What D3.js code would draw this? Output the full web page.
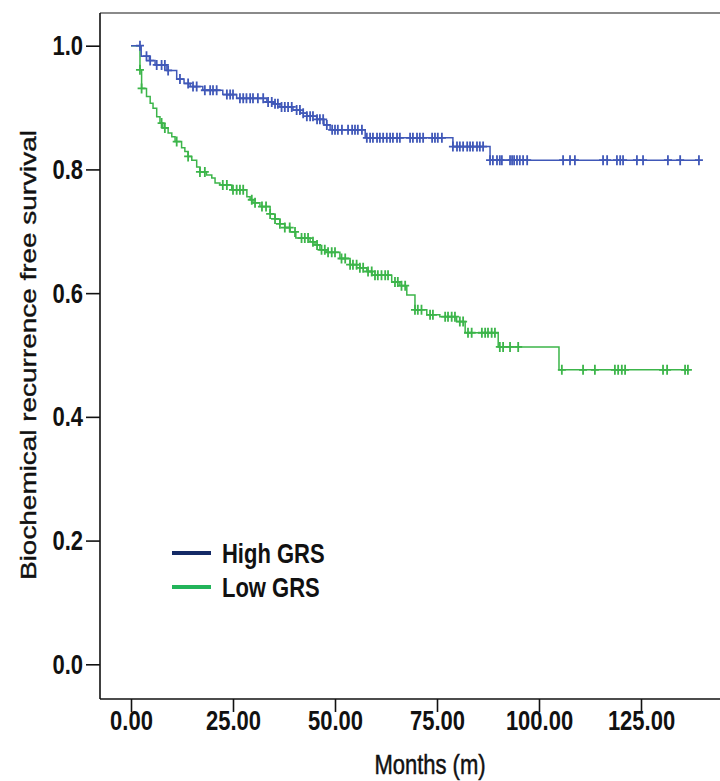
<!DOCTYPE html>
<html>
<head>
<meta charset="utf-8">
<script src="https://cdn.jsdelivr.net/npm/d3@7"></script>
<style>
  html, body { margin: 0; padding: 0; background: #fff; }
  svg { display: block; }
  text { font-family: "Liberation Sans", Arial, sans-serif; fill: #111; }
</style>
</head>
<body>
<svg id="chart" width="720" height="781"></svg>
<script>
// Kaplan-Meier curves: step times (months) and survival after each step
const highTimes = [2.5, 4.5, 5.9, 8.8, 11.2, 13.0, 14.5, 17.6, 22.5, 25.9, 33.3, 34.8, 36.5, 39.7, 41.5, 43.1, 45.5, 47.3, 48.8, 57.4, 78.9, 88.0];
const highSurv  = [0.983, 0.976, 0.969, 0.960, 0.946, 0.939, 0.934, 0.928, 0.921, 0.915, 0.909, 0.906, 0.901, 0.896, 0.891, 0.886, 0.881, 0.872, 0.864, 0.851, 0.837, 0.815];
const highEnd = 139.2;
const highCensor = [2.2, 3.8, 4.7, 6.3, 7.5, 8.3, 9.1, 12.0, 14.0, 15.2, 16.1, 18.1, 19.4, 20.1, 21.0, 23.5, 24.3, 25.0, 26.7, 27.5, 28.3, 29.2, 29.9, 31.1, 32.4, 33.6, 34.5, 35.3, 36.0, 36.9, 37.7, 38.5, 39.4, 40.6, 41.4, 42.2, 43.1, 43.9, 44.6, 45.6, 46.3, 47.1, 48.0, 49.3, 50.0, 50.7, 51.7, 53.2, 54.2, 54.9, 55.6, 56.6, 57.8, 58.6, 59.3, 60.3, 61.0, 61.8, 62.7, 63.5, 64.2, 65.2, 65.9, 68.4, 69.1, 70.1, 70.8, 71.6, 73.8, 74.5, 75.2, 76.2, 78.9, 79.9, 80.6, 81.4, 82.4, 83.1, 83.8, 84.8, 85.5, 86.3, 88.0, 88.7, 89.7, 90.4, 90.9, 92.9, 93.4, 93.9, 94.6, 95.3, 96.1, 97.1, 105.9, 107.6, 108.8, 115.7, 116.7, 119.1, 119.9, 120.6, 124.0, 125.5, 131.6, 134.6, 139.2];

const lowTimes = [2.2, 2.6, 3.8, 4.7, 5.4, 6.3, 7.1, 7.8, 9.1, 10.0, 10.8, 12.4, 13.2, 14.0, 14.9, 16.1, 16.9, 18.5, 19.8, 20.6, 21.8, 24.7, 28.4, 29.2, 29.9, 31.6, 34.1, 35.3, 36.5, 37.7, 39.0, 40.4, 43.9, 45.1, 46.3, 47.8, 51.2, 53.7, 56.1, 57.8, 59.1, 63.9, 65.9, 67.6, 69.6, 72.5, 75.7, 79.8, 81.9, 90.0, 104.9];
const lowSurv  = [0.961, 0.931, 0.918, 0.907, 0.899, 0.885, 0.875, 0.867, 0.859, 0.853, 0.845, 0.835, 0.829, 0.821, 0.815, 0.804, 0.796, 0.791, 0.786, 0.778, 0.775, 0.767, 0.756, 0.751, 0.746, 0.740, 0.728, 0.720, 0.712, 0.706, 0.699, 0.689, 0.683, 0.678, 0.670, 0.666, 0.656, 0.646, 0.641, 0.635, 0.629, 0.618, 0.612, 0.597, 0.573, 0.565, 0.562, 0.554, 0.536, 0.513, 0.476];
const lowEnd = 136.5;
const lowCensor = [2.2, 2.6, 7.5, 8.3, 11.2, 14.0, 16.9, 18.1, 22.5, 23.5, 25.0, 25.9, 26.7, 27.5, 29.6, 30.4, 32.1, 33.1, 34.1, 35.3, 36.5, 37.7, 38.9, 40.2, 41.8, 42.6, 43.4, 44.6, 45.6, 46.7, 47.5, 48.3, 49.2, 50.0, 51.6, 52.5, 53.7, 54.4, 55.3, 56.1, 56.9, 58.1, 59.0, 59.8, 60.5, 61.4, 62.3, 63.0, 64.7, 65.4, 66.3, 67.2, 69.6, 70.3, 71.2, 73.3, 74.0, 77.0, 77.7, 78.6, 79.4, 80.6, 81.4, 82.6, 83.5, 86.0, 86.8, 87.5, 88.4, 89.2, 90.4, 91.2, 92.9, 94.9, 105.6, 110.8, 113.7, 118.6, 119.4, 120.3, 121.1, 130.4, 131.4, 135.8, 136.5];

const xTicks = [0, 25, 50, 75, 100, 125];
const yTicks = [0, 0.2, 0.4, 0.6, 0.8, 1.0];
const groupNames = ["High GRS", "Low GRS"];

const svg = d3.select("#chart");
const x = d3.scaleLinear().domain([0, 125]).range([131, 641]);
const y = d3.scaleLinear().domain([0, 1]).range([664.3, 45.7]);
const axisLeftX = 100, axisBottomY = 699, topY = 13, rightX = 720;
const stretch = 1.27;   // lettering is drawn taller than wide
const font = "'Liberation Sans', Arial, sans-serif";

// frame: gray top edge
svg.append("line").attr("x1", axisLeftX).attr("x2", rightX)
  .attr("y1", topY).attr("y2", topY)
  .attr("stroke", "#8a8a8a").attr("stroke-width", 2);

// y axis
const yAxis = d3.axisLeft(y).tickValues(yTicks).tickFormat(d3.format(".1f"))
  .tickSize(14).tickPadding(3);
const gy = svg.append("g").attr("transform", `translate(${axisLeftX},0)`).call(yAxis);
gy.select(".domain").attr("d", `M0,${topY}V${axisBottomY}`).attr("stroke", "#111").attr("stroke-width", 1.6);
gy.selectAll(".tick line").attr("stroke", "#111").attr("stroke-width", 1.6);
gy.selectAll(".tick text").attr("font-size", 22).attr("font-weight", "bold")
  .attr("font-family", font).attr("fill", "#111")
  .attr("transform", `scale(1,${stretch})`);

// x axis
const xAxis = d3.axisBottom(x).tickValues(xTicks).tickFormat(d3.format(".2f"))
  .tickSize(13).tickPadding(6);
const gx = svg.append("g").attr("transform", `translate(0,${axisBottomY})`).call(xAxis);
gx.select(".domain").attr("d", `M${axisLeftX},0H${rightX}`).attr("stroke", "#111").attr("stroke-width", 1.6);
gx.selectAll(".tick line").attr("stroke", "#111").attr("stroke-width", 1.6);
gx.selectAll(".tick text").attr("font-size", 22).attr("font-weight", "bold")
  .attr("font-family", font).attr("fill", "#111")
  .attr("y", 0).attr("dy", 0)
  .attr("transform", `translate(0,31) scale(1,${stretch})`);

// axis titles (slightly heavier than regular weight)
svg.append("text").attr("transform", `translate(430,774) scale(1,${stretch})`)
  .attr("text-anchor", "middle").attr("font-size", 22)
  .attr("stroke", "#111").attr("stroke-width", 0.4).text("Months (m)");
svg.append("text")
  .attr("transform", `translate(36,${(y(0) + y(1)) / 2}) rotate(-90) scale(${stretch},1)`)
  .attr("text-anchor", "middle").attr("font-size", 22)
  .attr("stroke", "#111").attr("stroke-width", 0.4)
  .text("Biochemical recurrence free survival");

// survival step curves with censoring marks
function survAt(times, surv, t) {
  let s = 1;
  for (let i = 0; i < times.length; i++) { if (times[i] <= t) s = surv[i]; }
  return s;
}
function drawGroup(times, surv, end, censor, color) {
  const pts = [[0, 1]].concat(times.map((t, i) => [t, surv[i]]));
  pts.push([end, surv[surv.length - 1]]);
  const line = d3.line().x(d => x(d[0])).y(d => y(d[1])).curve(d3.curveStepAfter);
  svg.append("path").datum(pts).attr("d", line)
    .attr("fill", "none").attr("stroke", color).attr("stroke-width", 1.5);
  svg.append("g").selectAll("path").data(censor).join("path")
    .attr("d", c => {
      const cx = x(c), cy = y(survAt(times, surv, c));
      return `M${cx},${cy - 5}V${cy + 5}M${cx - 4},${cy}H${cx + 4}`;
    })
    .attr("stroke", color).attr("stroke-width", 1.8).attr("fill", "none");
}
drawGroup(lowTimes, lowSurv, lowEnd, lowCensor, "#3cb54a");
drawGroup(highTimes, highSurv, highEnd, highCensor, "#4058b8");

// legend
const legendColors = ["#142a66", "#22b45a"];
const lg = svg.append("g");
groupNames.forEach((name, i) => {
  const ly = 553 + i * 34;
  lg.append("line").attr("x1", 172).attr("x2", 211).attr("y1", ly).attr("y2", ly)
    .attr("stroke", legendColors[i]).attr("stroke-width", 4);
  lg.append("text").attr("transform", `translate(222,${ly + 10}) scale(1,${stretch})`)
    .attr("font-size", 22).attr("font-weight", "bold").text(name);
});
</script>
</body>
</html>
